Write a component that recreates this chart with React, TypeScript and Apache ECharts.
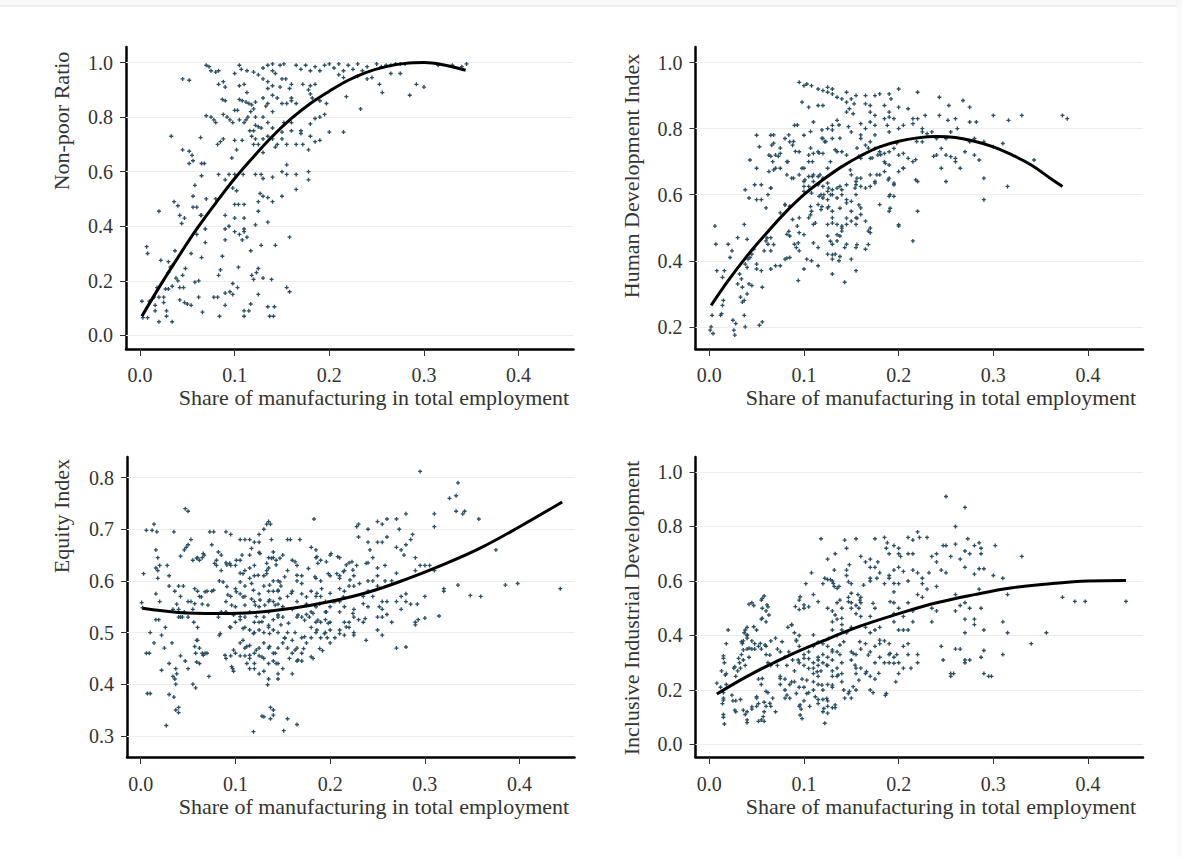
import React, { useEffect, useRef } from "react";
import * as echarts from "echarts";

const xTicks = [0, 0.1, 0.2, 0.3, 0.4];
const xName = "Share of manufacturing in total employment";
const yNames = ["Non-poor Ratio", "Human Development Index", "Equity Index", "Inclusive Industrial Development"];
const yTicks1 = [0, 0.2, 0.4, 0.6, 0.8, 1.0];
const yTicks2 = [0.2, 0.4, 0.6, 0.8, 1.0];
const yTicks3 = [0.3, 0.4, 0.5, 0.6, 0.7, 0.8];
const yTicks4 = [0, 0.2, 0.4, 0.6, 0.8, 1.0];

const curve1 = [[.002,.07],[.02,.175],[.04,.285],[.06,.39],[.08,.485],[.1,.575],[.12,.655],[.14,.73],[.16,.795],[.18,.85],[.2,.895],[.22,.935],[.24,.965],[.26,.985],[.28,.997],[.3,1],[.32,.992],[.344,.972]];
const curve2 = [[.002,.265],[.02,.34],[.04,.415],[.06,.482],[.08,.545],[.1,.6],[.12,.645],[.14,.685],[.16,.718],[.18,.745],[.2,.762],[.22,.772],[.24,.776],[.26,.773],[.28,.762],[.3,.745],[.32,.72],[.34,.69],[.36,.65],[.373,.625]];
const curve3 = [[.002,.547],[.04,.539],[.08,.537],[.12,.539],[.16,.547],[.2,.56],[.24,.578],[.28,.603],[.32,.632],[.36,.665],[.4,.705],[.445,.753]];
const curve4 = [[.008,.185],[.04,.25],[.08,.32],[.12,.38],[.16,.435],[.2,.48],[.24,.52],[.28,.55],[.32,.575],[.36,.59],[.4,.6],[.44,.602]];

const points1 = [[.007,.325],[.008,.3],[.002,.125],[.01,.125],[.003,.065],[.008,.065],[.015,.14],[.016,.11],[.016,.09],[.018,.175],[.02,.05],[.02,.14],[.02,.455],[.022,.275],[.025,.14],[.025,.12],[.027,.17],[.028,.09],[.028,.07],[.03,.27],[.03,.17],[.03,.23],[.032,.25],[.034,.18],[.034,.05],[.034,.255],[.036,.49],[.037,.31],[.038,.21],[.04,.2],[.04,.475],[.042,.44],[.042,.175],[.042,.13],[.044,.41],[.046,.175],[.047,.43],[.047,.12],[.045,.22],[.048,.245],[.05,.115],[.054,.3],[.054,.11],[.056,.51],[.056,.47],[.058,.195],[.06,.37],[.062,.2],[.062,.14],[.064,.44],[.065,.285],[.066,.085],
[.033,.73],[.045,.94],[.052,.935],[.045,.68],[.052,.675],[.055,.66],[.056,.64],[.052,.63],[.064,.725],[.065,.63],[.068,.63],[.065,.585],[.058,.55],[.07,.5],[.06,.47],[.065,.44],[.069,.39],[.069,.34],[.07,.805],[.075,.8],[.078,.79],[.08,.78],[.07,.99],[.073,.985],[.075,.97],[.08,.965],[.083,.97],[.082,.7],[.085,.71],[.08,.5],[.085,.24],[.083,.22],[.082,.14],[.078,.14],[.084,.07],[.087,.29],
[.088,.93],[.09,.91],[.083,.92],[.087,.865],[.09,.86],[.088,.81],[.092,.8],[.095,.79],[.1,.825],[.103,.825],[.098,.78],[.105,.79],[.11,.78],[.088,.72],[.1,.715],[.102,.68],[.108,.715],[.097,.65],[.083,.59],[.09,.57],[.094,.59],[.098,.54],[.102,.53],[.1,.59],[.109,.59],[.1,.48],[.104,.48],[.11,.48],[.09,.44],[.1,.43],[.11,.43],[.09,.39],[.094,.4],[.1,.38],[.105,.37],[.11,.38],[.108,.35],[.113,.36],[.09,.35],[.11,.39],[.104,.25],[.098,.19],[.103,.175],[.09,.155],[.095,.16],[.098,.15],[.09,.11],[.11,.09],[.115,.09],[.11,.07],[.117,.115],[.117,.31],
[.1,.96],[.105,.99],[.107,.975],[.113,.97],[.105,.915],[.11,.92],[.113,.89],[.105,.865],[.108,.86],[.112,.855],[.115,.85],[.118,.845],[.122,.855],[.12,.83],[.117,.82],[.112,.79],[.114,.8],[.122,.8],[.116,.75],[.12,.75],[.122,.77],[.125,.765],[.128,.76],[.118,.73],[.122,.72],[.13,.72],[.12,.7],[.125,.7],[.13,.67],[.122,.59],[.128,.59],[.13,.575],[.14,.58],[.127,.52],[.125,.49],[.13,.51],[.135,.505],[.14,.49],[.125,.455],[.135,.415],[.122,.405],[.128,.33],[.143,.33],[.118,.22],[.12,.205],[.123,.23],[.125,.245],[.13,.21],[.139,.205],[.125,.15],[.135,.105],[.142,.105],[.137,.07],[.141,.07],[.155,.175],[.158,.16],[.158,.36],
[.12,.965],[.125,.955],[.13,.98],[.135,.99],[.14,.97],[.143,.96],[.14,.995],[.148,.99],[.152,.995],[.13,.94],[.135,.93],[.14,.915],[.135,.905],[.15,.94],[.154,.94],[.148,.91],[.16,.92],[.158,.905],[.16,.87],[.13,.87],[.135,.85],[.14,.88],[.145,.87],[.15,.85],[.155,.85],[.16,.86],[.165,.85],[.133,.84],[.13,.8],[.14,.82],[.135,.78],[.152,.78],[.16,.78],[.14,.76],[.15,.745],[.16,.75],[.17,.75],[.135,.73],[.14,.72],[.145,.7],[.143,.69],[.15,.72],[.155,.7],[.165,.7],[.172,.7],[.17,.74],[.18,.73],[.185,.71],[.19,.715],[.178,.68],[.178,.6],[.178,.57],[.165,.59],[.155,.625],[.15,.6],[.155,.59],[.165,.535],[.15,.51],
[.165,.99],[.17,.975],[.175,.99],[.18,.97],[.185,.985],[.19,.97],[.195,.99],[.2,.995],[.205,.98],[.21,.995],[.215,.97],[.22,.99],[.225,.975],[.23,.995],[.235,.97],[.24,.985],[.25,.995],[.255,.985],[.26,.99],[.265,.99],[.27,.995],[.275,.995],[.28,.995],[.315,.99],[.33,.99],[.34,.985],[.345,.995],[.172,.92],[.178,.9],[.18,.915],[.185,.92],[.18,.885],[.182,.87],[.19,.86],[.197,.85],[.19,.8],[.195,.81],[.185,.795],[.18,.775],[.2,.745],[.215,.745],[.218,.875],[.233,.83],[.21,.955],[.215,.945],[.23,.95],[.24,.94],[.245,.945],[.253,.92],[.256,.89],[.265,.96],[.275,.96],[.285,.88],[.292,.92],[.3,.91]];

const points2 = [[.002,.2],[.001,.19],[.004,.18],[.003,.235],[.012,.235],[.013,.24],[.006,.505],[.007,.45],[.008,.37],[.014,.35],[.016,.37],[.015,.28],[.014,.265],[.02,.45],[.024,.43],[.022,.41],[.025,.22],[.026,.19],[.027,.175],[.028,.21],[.03,.47],[.032,.36],[.034,.345],[.035,.32],[.03,.33],[.033,.29],[.035,.275],[.037,.28],[.037,.235],[.038,.39],[.04,.38],[.042,.33],[.043,.41],[.045,.42],[.04,.465],[.037,.51],[.04,.3],[.045,.325],[.041,.405],[.038,.2],[.047,.435],[.05,.39],[.05,.375],[.053,.205],[.056,.215],[.055,.37],[.056,.32],[.058,.43],[.06,.46],[.062,.45],[.065,.47],[.065,.375],[.065,.43],[.07,.385],[.075,.385],[.08,.405],[.085,.41],[.085,.475],[.09,.45],[.092,.44],[.095,.43],[.094,.34],[.1,.375],[.103,.405],[.108,.4],[.115,.385],[.115,.44],[.125,.42],[.13,.405],[.133,.42],[.13,.36],[.143,.335],[.137,.4],[.145,.45],[.15,.405],[.155,.37],[.155,.44],[.165,.435],[.17,.485],[.168,.49],
[.05,.78],[.053,.745],[.05,.68],[.065,.78],[.066,.75],[.063,.72],[.07,.72],[.067,.7],[.075,.725],[.08,.77],[.085,.76],[.088,.75],[.083,.7],[.082,.66],[.087,.65],[.075,.68],[.068,.675],[.043,.705],[.038,.615],[.048,.63],[.055,.63],[.065,.62],[.042,.59],[.05,.585],[.055,.585],[.06,.56],[.062,.6],[.08,.57],[.085,.565],[.075,.545],[.088,.525],[.095,.53],[.082,.48],[.093,.505],[.095,.485],
[.09,.81],[.095,.94],[.1,.93],[.103,.935],[.108,.93],[.098,.88],[.105,.865],[.115,.87],[.12,.87],[.11,.82],[.1,.78],[.105,.72],[.095,.73],[.105,.7],[.11,.725],[.115,.73],[.12,.725],[.12,.77],[.125,.8],[.122,.76],[.13,.77],[.13,.81],[.135,.825],[.14,.73],[.135,.73],[.125,.68],[.1,.68],[.095,.66],[.105,.655],[.11,.66],[.11,.64],[.115,.655],[.12,.65],[.1,.64],[.105,.625],[.115,.63],[.12,.625],[.125,.635],[.1,.61],[.108,.605],[.118,.6],[.125,.61],[.13,.615],[.135,.62],[.14,.615],[.145,.63],[.12,.59],[.125,.585],[.13,.6],[.135,.59],[.14,.6],[.115,.57],[.118,.555],[.125,.56],[.13,.55],[.108,.55],[.105,.53],[.13,.53],[.135,.51],[.125,.51],[.14,.505],[.11,.51],[.145,.51],[.15,.52],[.155,.51],[.14,.49],[.138,.475],[.135,.46],[.13,.45],[.143,.44],[.125,.475],[.15,.55],[.16,.54],[.155,.53],[.165,.52],
[.115,.92],[.12,.915],[.125,.91],[.13,.905],[.125,.925],[.13,.92],[.135,.895],[.14,.89],[.145,.91],[.145,.88],[.15,.89],[.153,.875],[.155,.9],[.148,.86],[.145,.85],[.152,.845],[.165,.9],[.165,.875],[.17,.87],[.17,.85],[.175,.9],[.18,.905],[.16,.815],[.165,.8],[.17,.82],[.175,.84],[.175,.81],[.185,.87],[.19,.905],[.192,.89],[.2,.92],[.2,.865],[.19,.85],[.185,.83],[.188,.81],[.19,.835],[.195,.83],[.19,.79],[.2,.8],[.205,.81],[.21,.86],[.22,.91],[.215,.83],[.215,.815],[.22,.83],[.225,.8],[.23,.785],[.225,.79],[.228,.84],[.243,.895],[.243,.84],[.235,.79],[.25,.77],[.252,.825],[.255,.79],[.26,.83],[.262,.8],[.253,.87],[.268,.885],[.275,.865],[.275,.82],[.282,.82],[.3,.84],[.316,.825],[.33,.84],[.373,.84],[.378,.83],
[.145,.72],[.15,.79],[.16,.77],[.165,.75],[.17,.76],[.175,.74],[.16,.71],[.17,.71],[.178,.72],[.18,.73],[.185,.725],[.19,.73],[.195,.74],[.185,.7],[.19,.69],[.2,.72],[.205,.725],[.21,.71],[.215,.7],[.18,.66],[.185,.67],[.2,.67],[.205,.68],[.175,.64],[.19,.65],[.195,.63],[.19,.595],[.195,.595],[.22,.64],[.22,.55],[.215,.46],[.2,.505],[.19,.55],[.18,.57],[.15,.66],[.155,.64],[.16,.65],[.155,.63],[.16,.625],[.165,.62],[.17,.625],[.17,.66],[.155,.6],[.15,.58],[.16,.56],[.145,.575],
[.225,.76],[.24,.77],[.245,.74],[.24,.72],[.25,.72],[.255,.715],[.26,.71],[.27,.73],[.275,.76],[.28,.77],[.29,.76],[.3,.745],[.31,.755],[.28,.72],[.285,.705],[.26,.7],[.245,.68],[.265,.68],[.25,.64],[.29,.65],[.29,.585],[.315,.625],[.343,.705]];

const points2Dense = [[.068,.781],[.084,.781],[.093,.811],[.107,.791],[.119,.796],[.13,.796],[.137,.811],[.147,.806],[.16,.781],[.175,.781],[.068,.756],[.089,.761],[.119,.771],[.123,.761],[.138,.771],[.075,.741],[.065,.716],[.073,.716],[.082,.7],[.091,.731],[.107,.741],[.116,.726],[.133,.736],[.156,.741],[.168,.741],[.181,.721],[.198,.756],[.219,.761],[.07,.68],[.098,.68],[.109,.7],[.128,.7],[.158,.716],[.172,.711],[.186,.695],[.205,.68],[.218,.706],[.237,.716],[.063,.67],[.089,.65],[.101,.645],[.109,.655],[.117,.66],[.149,.675],[.156,.65],[.177,.66],[.189,.645],[.065,.62],[.1,.625],[.126,.62],[.138,.625],[.154,.62],[.175,.635],[.195,.635],[.218,.645],[.116,.595],[.121,.6],[.128,.6],[.145,.585],[.158,.569],[.191,.6],[.08,.569],[.107,.564],[.119,.564],[.126,.564],[.138,.559],[.191,.559],[.107,.539],[.156,.529],[.145,.529],[.13,.514],[.112,.514],[.14,.499],[.17,.499],[.2,.509],[.084,.489],[.1,.479],[.135,.479],[.094,.454],[.11,.454],[.128,.459],[.156,.449],[.168,.449],[.061,.469],[.068,.449],[.13,.418],[.138,.413],[.082,.408]];

const points3 = [[.001,.558],[.002,.548],[.003,.614],[.006,.698],[.006,.46],[.009,.46],[.007,.382],[.01,.382],[.01,.5],[.012,.698],[.014,.71],[.017,.695],[.016,.66],[.018,.645],[.016,.625],[.018,.62],[.02,.63],[.018,.605],[.016,.575],[.016,.525],[.019,.525],[.014,.48],[.02,.56],[.022,.427],[.022,.495],[.025,.47],[.026,.51],[.027,.32],[.028,.63],[.03,.61],[.03,.59],[.03,.38],[.03,.44],[.033,.48],[.035,.375],[.034,.415],[.036,.41],[.038,.42],[.037,.43],[.037,.4],[.035,.695],[.036,.58],[.034,.545],[.038,.555],[.04,.53],[.042,.53],[.044,.53],[.04,.545],[.046,.54],[.042,.57],[.04,.59],[.045,.59],[.042,.455],[.047,.445],[.04,.355],[.037,.35],[.04,.345],[.042,.648],[.046,.66],[.048,.665],[.05,.67],[.053,.68],[.047,.74],[.05,.735],[.05,.56],[.053,.56],[.055,.545],[.05,.53],[.056,.52],[.05,.43],[.055,.4],[.058,.393],[.055,.64],[.06,.645],[.062,.64],[.065,.645],[.067,.65],[.06,.58],[.062,.57],[.065,.555],[.06,.51],[.06,.485],[.062,.47],[.058,.46],[.065,.46],[.068,.46],[.07,.46],[.062,.44],[.072,.415],[.07,.58],[.075,.58],[.077,.695],[.073,.695],[.075,.67],[.08,.64],[.08,.63],[.085,.62],[.083,.6],[.082,.53],[.085,.54],[.083,.495],[.09,.54],[.09,.695],[.095,.69],[.085,.65],[.09,.635],[.095,.63],[.1,.63],[.09,.56],[.095,.57],[.09,.45],[.095,.455],[.097,.43],[.098,.425],
[.105,.68],[.11,.68],[.115,.68],[.12,.675],[.125,.69],[.125,.675],[.125,.655],[.13,.7],[.133,.71],[.135,.715],[.137,.71],[.138,.68],[.105,.64],[.11,.62],[.105,.615],[.115,.625],[.12,.63],[.12,.61],[.115,.605],[.11,.59],[.105,.575],[.1,.585],[.11,.57],[.117,.565],[.12,.56],[.125,.575],[.125,.55],[.13,.61],[.133,.62],[.13,.59],[.135,.58],[.14,.58],[.14,.645],[.135,.645],[.143,.64],[.135,.625],[.14,.6],[.145,.6],[.148,.59],[.145,.58],[.14,.56],[.135,.56],[.145,.555],[.15,.55],[.15,.53],[.145,.53],[.14,.525],[.135,.54],[.13,.53],[.125,.52],[.12,.52],[.115,.54],[.11,.53],[.105,.525],[.1,.52],[.1,.55],[.095,.51],[.11,.51],[.115,.505],[.12,.5],[.125,.505],[.13,.5],[.135,.51],[.14,.505],[.145,.5],[.148,.515],[.152,.49],[.155,.5],[.15,.48],[.145,.47],[.14,.46],[.135,.47],[.13,.48],[.125,.47],[.12,.46],[.115,.475],[.11,.47],[.105,.48],[.1,.46],[.105,.455],[.11,.455],[.115,.45],[.12,.44],[.125,.455],[.13,.45],[.135,.44],[.14,.445],[.145,.44],[.15,.43],[.115,.43],[.12,.43],[.112,.44],[.125,.42],[.13,.425],[.135,.41],[.145,.41],[.145,.42],[.16,.42],[.134,.399],[.137,.355],[.14,.35],[.128,.338],[.13,.337],[.137,.333],[.14,.34],[.155,.333],[.165,.322],[.119,.308],[.151,.31],
[.15,.65],[.155,.68],[.158,.68],[.168,.68],[.16,.64],[.165,.63],[.155,.62],[.165,.6],[.17,.61],[.16,.58],[.155,.57],[.165,.56],[.17,.575],[.175,.555],[.16,.545],[.165,.53],[.17,.53],[.175,.535],[.178,.53],[.183,.72],[.18,.665],[.185,.66],[.185,.645],[.19,.64],[.185,.605],[.19,.6],[.18,.58],[.185,.57],[.19,.57],[.195,.56],[.185,.55],[.18,.54],[.185,.52],[.19,.52],[.195,.525],[.2,.52],[.195,.54],[.2,.55],[.205,.56],[.18,.51],[.185,.5],[.19,.49],[.195,.5],[.197,.49],[.2,.505],[.205,.49],[.163,.5],[.16,.485],[.17,.49],[.175,.48],[.18,.49],[.165,.47],[.155,.47],[.16,.46],[.17,.46],[.165,.445],[.17,.445],[.182,.45],[.192,.465],[.2,.48],
[.2,.65],[.21,.645],[.2,.61],[.21,.61],[.215,.62],[.21,.585],[.215,.58],[.22,.59],[.225,.59],[.22,.635],[.228,.63],[.225,.61],[.21,.56],[.215,.55],[.21,.54],[.215,.52],[.22,.52],[.225,.545],[.225,.53],[.23,.525],[.235,.52],[.21,.505],[.22,.51],[.215,.495],[.225,.5],[.225,.495],[.24,.55],[.235,.57],[.24,.58],[.245,.57],[.24,.6],[.24,.635],[.245,.6],[.25,.61],[.25,.59],[.255,.56],[.252,.55],[.255,.545],[.26,.56],[.25,.53],[.255,.53],[.265,.52],[.26,.535],[.238,.485],[.25,.505],[.255,.495],[.228,.705],[.23,.71],[.23,.685],[.24,.7],[.242,.66],[.245,.645],[.24,.675],[.25,.675],[.255,.675],[.26,.685],[.25,.715],[.255,.71],[.26,.72],[.25,.625],[.258,.63],[.258,.6],[.265,.6],[.27,.615],[.275,.57],[.28,.575],[.27,.56],[.28,.56],[.275,.545],[.27,.72],[.273,.7],[.28,.73],[.275,.66],[.27,.665],[.28,.67],[.278,.65],[.285,.68],[.287,.69],[.285,.555],[.292,.555],[.29,.62],[.295,.63],[.29,.645],[.3,.63],[.305,.63],[.293,.525],[.29,.52],[.3,.528],[.29,.515],[.27,.47],[.28,.472],[.295,.812],[.31,.73],[.31,.705],[.3,.57],[.31,.62],[.32,.58],[.32,.585],[.315,.532],[.326,.76],[.333,.765],[.333,.735],[.335,.79],[.34,.73],[.342,.735],[.335,.592],[.348,.572],[.359,.57],[.357,.72],[.375,.66],[.385,.592],[.398,.595],[.443,.585]];

const points3Dense = [[.066,.653],[.059,.644],[.082,.656],[.078,.634],[.091,.631],[.094,.634],[.101,.64],[.107,.65],[.115,.65],[.117,.663],[.126,.653],[.14,.656],[.138,.644],[.147,.644],[.133,.634],[.143,.631],[.163,.637],[.177,.624],[.186,.647],[.201,.653],[.208,.647],[.187,.634],[.196,.637],[.217,.631],[.223,.637],[.238,.634],[.108,.614],[.124,.611],[.133,.614],[.152,.608],[.165,.611],[.184,.608],[.198,.614],[.207,.614],[.214,.618],[.224,.621],[.105,.598],[.117,.595],[.147,.598],[.136,.592],[.145,.582],[.17,.595],[.191,.585],[.21,.605],[.221,.602],[.231,.595],[.087,.598],[.091,.589],[.101,.579],[.057,.585],[.068,.579],[.077,.582],[.064,.569],[.092,.573],[.108,.569],[.119,.582],[.126,.563],[.136,.563],[.147,.566],[.159,.576],[.175,.569],[.186,.576],[.2,.576],[.214,.569],[.057,.556],[.071,.553],[.096,.553],[.11,.553],[.121,.553],[.131,.553],[.142,.553],[.175,.553],[.189,.556],[.203,.56],[.235,.556],[.098,.534],[.105,.531],[.122,.531],[.145,.534],[.166,.534],[.182,.537],[.196,.54],[.224,.537],[.237,.527],[.094,.511],[.108,.508],[.128,.521],[.135,.514],[.156,.518],[.173,.524],[.187,.524],[.198,.518],[.217,.511],[.084,.498],[.108,.485],[.119,.498],[.136,.498],[.152,.489],[.173,.492],[.186,.505],[.194,.498],[.21,.498],[.059,.485],[.057,.473],[.098,.466],[.112,.473],[.122,.466],[.136,.473],[.163,.466],[.172,.469],[.189,.469],[.066,.456],[.059,.443],[.089,.456],[.115,.456],[.128,.453],[.142,.46],[.157,.45],[.166,.447],[.18,.453],[.096,.434],[.143,.44]];

const points4 = [[.008,.225],[.013,.27],[.012,.21],[.015,.19],[.018,.22],[.015,.325],[.016,.3],[.018,.26],[.015,.17],[.014,.15],[.015,.11],[.015,.1],[.016,.075],[.02,.42],[.018,.37],[.025,.16],[.028,.16],[.028,.12],[.033,.165],[.026,.28],[.03,.27],[.028,.25],[.032,.3],[.033,.28],[.034,.33],[.036,.31],[.038,.29],[.04,.35],[.035,.37],[.036,.38],[.04,.4],[.037,.41],[.04,.39],[.04,.43],[.045,.38],[.045,.35],[.048,.35],[.042,.32],[.04,.12],[.038,.11],[.04,.09],[.04,.08],[.045,.13],[.05,.14],[.052,.085],[.05,.17],[.052,.15],[.055,.22],[.052,.24],[.055,.09],[.058,.12],[.06,.14],[.058,.155],[.058,.085],[.06,.195],[.062,.19],[.065,.14],[.07,.12],[.067,.17],[.042,.515],[.047,.51],[.055,.53],[.058,.545],[.056,.5],[.06,.49],[.062,.505],[.063,.475],[.055,.46],[.06,.45],[.05,.42],[.048,.37],[.052,.36],[.055,.35],[.06,.36],[.06,.33],[.065,.38],[.07,.39],[.072,.35],[.075,.34],[.08,.32],[.062,.3],[.065,.29],[.072,.29],[.075,.25],[.08,.24],[.075,.22],[.08,.2],[.08,.17],[.085,.17],[.085,.22],[.09,.23],[.09,.27],[.082,.29],
[.083,.43],[.087,.44],[.092,.38],[.09,.41],[.088,.31],[.095,.4],[.095,.36],[.1,.33],[.105,.34],[.095,.3],[.1,.29],[.095,.495],[.1,.5],[.105,.505],[.095,.53],[.098,.24],[.095,.21],[.1,.21],[.095,.14],[.097,.13],[.098,.095],[.1,.16],[.105,.19],[.106,.14],[.11,.2],[.11,.23],[.115,.22],[.12,.2],[.115,.25],[.11,.26],[.118,.27],[.11,.28],[.115,.29],[.12,.3],[.125,.29],[.11,.3],[.105,.315],[.115,.32],[.12,.33],[.125,.32],[.13,.31],[.11,.36],[.115,.375],[.12,.37],[.125,.36],[.13,.34],[.135,.34],[.138,.33],[.14,.3],[.135,.28],[.14,.26],[.13,.27],[.13,.25],[.125,.22],[.13,.21],[.135,.25],[.14,.23],[.115,.165],[.115,.15],[.12,.165],[.125,.16],[.125,.14],[.12,.12],[.125,.115],[.13,.135],[.133,.135],[.122,.078],[.108,.63],[.102,.59],[.11,.55],[.118,.755],[.125,.605],[.12,.59],[.128,.605],[.13,.6],[.132,.58],[.137,.58],[.125,.5],[.13,.49],[.135,.52],[.14,.5],[.13,.45],[.135,.46],[.14,.44],[.13,.42],[.14,.42],[.135,.4],[.145,.41],[.15,.43],
[.125,.68],[.133,.7],[.132,.64],[.143,.75],[.145,.72],[.145,.64],[.148,.66],[.145,.62],[.155,.755],[.15,.59],[.147,.54],[.15,.52],[.155,.51],[.157,.55],[.16,.54],[.16,.52],[.15,.5],[.155,.48],[.16,.47],[.16,.69],[.165,.67],[.17,.68],[.175,.755],[.17,.65],[.17,.6],[.17,.61],[.175,.65],[.178,.67],[.18,.63],[.175,.5],[.17,.47],[.165,.43],[.17,.41],[.18,.43],[.175,.42],[.16,.35],[.165,.37],[.175,.36],[.17,.34],[.15,.34],[.155,.33],[.15,.31],[.155,.28],[.16,.28],[.155,.26],[.165,.26],[.17,.25],[.175,.3],[.18,.32],[.185,.3],[.175,.24],[.155,.2],[.15,.17],[.148,.195],[.143,.17],[.142,.2],[.173,.19],[.186,.18],[.19,.37],[.185,.38],[.18,.37],[.19,.33],[.195,.32],[.19,.3],[.2,.3],[.198,.33],[.205,.28],[.2,.26],[.197,.23],[.21,.37],[.205,.36],[.21,.33],[.22,.33],[.22,.3],[.213,.28],
[.185,.76],[.188,.74],[.187,.72],[.19,.7],[.195,.73],[.2,.72],[.2,.7],[.202,.69],[.21,.7],[.215,.7],[.21,.76],[.2,.65],[.195,.64],[.205,.635],[.19,.62],[.185,.59],[.19,.61],[.2,.59],[.21,.6],[.215,.64],[.22,.63],[.195,.56],[.195,.52],[.2,.5],[.195,.48],[.205,.47],[.195,.45],[.2,.42],[.205,.42],[.21,.42],[.215,.45],[.215,.49],[.21,.52],[.22,.55],[.225,.54],[.225,.59],[.225,.61],[.23,.57],[.215,.75],[.22,.78],[.222,.76],[.23,.76],[.235,.69],[.24,.7],[.24,.67],[.245,.64],[.25,.63],[.232,.63],[.24,.58],[.235,.5],[.24,.49],[.235,.45],[.245,.36],[.247,.31],[.25,.91],[.27,.87],[.26,.8],[.247,.73],[.25,.73],[.255,.69],[.26,.735],[.265,.68],[.27,.65],[.27,.71],[.26,.55],[.265,.51],[.26,.49],[.255,.26],[.255,.25],[.258,.26],[.26,.35],[.265,.35],[.27,.31],[.27,.3],[.275,.31],[.273,.755],[.28,.73],[.285,.74],[.287,.72],[.287,.7],[.275,.7],[.28,.625],[.285,.645],[.29,.645],[.27,.52],[.275,.5],[.27,.46],[.28,.46],[.28,.44],[.27,.41],[.29,.42],[.287,.5],[.285,.57],[.29,.345],[.287,.32],[.29,.26],[.295,.25],[.298,.25],[.3,.62],[.302,.73],[.31,.33],[.31,.45],[.315,.41],[.31,.61],[.315,.55],[.33,.69],[.34,.37],[.356,.41],[.373,.54],[.386,.525],[.397,.525],[.44,.525]];

const points4Dense = [[.045,.52],[.056,.536],[.061,.512],[.056,.463],[.038,.42],[.04,.402],[.034,.377],[.047,.432],[.042,.353],[.036,.347],[.031,.316],[.027,.285],[.015,.316],[.017,.255],[.054,.371],[.064,.328],[.059,.365],[.077,.377],[.087,.438],[.096,.542],[.1,.512],[.091,.506],[.115,.524],[.122,.61],[.131,.591],[.135,.573],[.147,.597],[.138,.53],[.15,.555],[.163,.585],[.177,.61],[.195,.591],[.133,.475],[.147,.524],[.159,.53],[.173,.518],[.191,.524],[.14,.463],[.158,.5],[.092,.383],[.11,.402],[.126,.389],[.142,.377],[.159,.377],[.18,.383],[.084,.34],[.1,.316],[.115,.31],[.13,.347],[.138,.365],[.152,.334],[.168,.328],[.191,.334],[.094,.31],[.105,.279],[.114,.267],[.124,.291],[.136,.255],[.154,.291],[.166,.267],[.179,.261],[.195,.298],[.075,.242],[.087,.23],[.103,.236],[.119,.218],[.13,.218],[.158,.236],[.056,.242],[.024,.181],[.05,.175],[.064,.151],[.082,.181],[.092,.187],[.103,.187],[.112,.175],[.124,.169],[.133,.145],[.096,.145],[.036,.126],[.045,.138],[.121,.132],[.015,.163],[.027,.126],[.147,.187],[.152,.212],[.17,.2],[.187,.187],[.057,.102],[.096,.108]];

const panels = [
  { points: points1, curve: curve1, ticks: yTicks1, left: 126, top: 47, height: 302, margin: 16, xMin: -.0148, xMax: .458, yMin: -.05, yMax: 1.057 },
  { points: points2.concat(points2Dense), curve: curve2, ticks: yTicks2, left: 695.5, top: 47, height: 302, margin: 16, xMin: -.0145, xMax: .458, yMin: .133, yMax: 1.047 },
  { points: points3.concat(points3Dense), curve: curve3, ticks: yTicks3, left: 127, top: 457, height: 300, margin: 17, xMin: -.0145, xMax: .458, yMin: .259, yMax: .84 },
  { points: points4.concat(points4Dense), curve: curve4, ticks: yTicks4, left: 695.5, top: 457, height: 300, margin: 17, xMin: -.0145, xMax: .458, yMin: -.046, yMax: 1.055 },
];
const nameSpots = [
  { xNameX: 374, xNameY: 397, yNameX: 61, yNameY: 121 },
  { xNameX: 941, xNameY: 397, yNameX: 631, yNameY: 176 },
  { xNameX: 374, xNameY: 806, yNameX: 61, yNameY: 516 },
  { xNameX: 941, xNameY: 806, yNameX: 631, yNameY: 608 },
];

const FONT = "'Liberation Serif', 'Times New Roman', serif";
const CROSS = "path://M1 0H2V1H3V2H2V3H1V2H0V1H1Z";

export default function App() {
  const ref = useRef<HTMLDivElement>(null);
  useEffect(() => {
    const chart = echarts.init(ref.current!, undefined, { renderer: "svg" });
    const grids = panels.map((p) => ({ left: p.left, top: p.top, width: 447.5, height: p.height }));
    const xAxes = panels.map((p, i) => ({
      type: "value", gridIndex: i, min: p.xMin, max: p.xMax, splitLine: { show: false },
      axisLine: { show: true, onZero: false, lineStyle: { color: "#000", width: 2.5 } },
      axisTick: { show: true, customValues: xTicks, length: 7, lineStyle: { color: "#333", width: 1 } },
      axisLabel: { customValues: xTicks, formatter: (v: number) => v.toFixed(1), margin: p.margin, color: "#333", fontFamily: FONT, fontSize: 20 },
    }));
    const yAxes = panels.map((p, i) => ({
      type: "value", gridIndex: i, min: p.yMin, max: p.yMax, splitLine: { show: false },
      axisLine: { show: true, onZero: false, lineStyle: { color: "#000", width: 2.5 } },
      axisTick: { show: true, customValues: p.ticks, length: 6, lineStyle: { color: "#333", width: 1 } },
      axisLabel: { customValues: p.ticks, formatter: (v: number) => v.toFixed(1), margin: 13, color: "#333", fontFamily: FONT, fontSize: 20 },
    }));
    const series: any[] = [];
    panels.forEach((p, i) => {
      series.push({
        type: "scatter", xAxisIndex: i, yAxisIndex: i, data: p.points, symbol: CROSS, symbolSize: 4,
        itemStyle: { color: "#2b4f63", opacity: 1 }, z: 3, silent: true,
        markLine: {
          silent: true, symbol: "none", label: { show: false }, animation: false, z: 1,
          lineStyle: { color: "#ececec", width: 1, type: "solid" },
          data: p.ticks.map((v) => ({ yAxis: v })),
        },
      });
      series.push({
        type: "line", xAxisIndex: i, yAxisIndex: i, data: p.curve, smooth: 0.4, showSymbol: false, silent: true,
        lineStyle: { color: "#000", width: 3 }, z: 4,
      });
    });
    const graphic: any[] = [
      { type: "rect", silent: true, z: -1, shape: { x: 0, y: 0, width: 1182, height: 5 }, style: { fill: "#f8f8f8" } },
      { type: "rect", silent: true, z: -1, shape: { x: 0, y: 5, width: 1177, height: 2 }, style: { fill: "#eeeeee" } },
      { type: "rect", silent: true, z: -1, shape: { x: 1177, y: 5, width: 5, height: 852 }, style: { fill: "#fafafa" } },
    ];
    nameSpots.forEach((s, i) => {
      graphic.push({ type: "text", x: s.xNameX, y: s.xNameY, silent: true, style: { text: xName, align: "center", verticalAlign: "middle", fill: "#333", font: `22px ${FONT}` } });
      graphic.push({ type: "text", x: s.yNameX, y: s.yNameY, rotation: Math.PI / 2, silent: true, style: { text: yNames[i], align: "center", verticalAlign: "middle", fill: "#333", font: `22px ${FONT}` } });
    });
    chart.setOption({ animation: false, backgroundColor: "#fff", grid: grids, xAxis: xAxes, yAxis: yAxes, series, graphic });
    return () => chart.dispose();
  }, []);
  return <div ref={ref} style={{ position: "absolute", left: 0, top: 0, width: 1182, height: 857 }} />;
}
